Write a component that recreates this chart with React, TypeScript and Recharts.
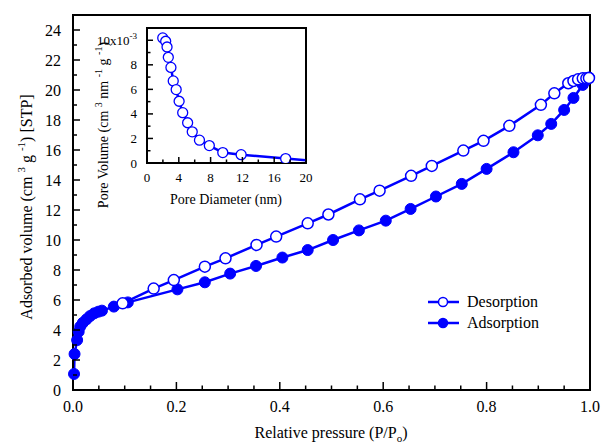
import React from 'react';
import { LineChart, Line, XAxis, YAxis, ReferenceArea, Legend, Label } from 'recharts';

// isotherm, main panel (P/Po vs cm3/g)
const adsP = [0.002, 0.003, 0.008, 0.011, 0.014, 0.019, 0.026, 0.033, 0.041, 0.049, 0.056, 0.079, 0.106, 0.202, 0.255, 0.304, 0.354, 0.405, 0.454, 0.503, 0.553, 0.605, 0.653, 0.702, 0.752, 0.8, 0.852, 0.899, 0.925, 0.95, 0.968, 0.986, 0.993, 0.998];
const adsV = [1.07, 2.4, 3.33, 3.89, 4.23, 4.48, 4.71, 4.93, 5.11, 5.22, 5.29, 5.56, 5.84, 6.71, 7.18, 7.76, 8.27, 8.83, 9.33, 10.0, 10.64, 11.29, 12.07, 12.9, 13.74, 14.74, 15.85, 16.98, 17.74, 18.67, 19.47, 20.34, 20.67, 20.83];
const desP = [0.096, 0.156, 0.195, 0.255, 0.295, 0.355, 0.393, 0.454, 0.494, 0.555, 0.593, 0.654, 0.694, 0.755, 0.794, 0.844, 0.905, 0.931, 0.958, 0.968, 0.977, 0.986, 0.993, 0.998];
const desV = [5.78, 6.76, 7.33, 8.22, 8.78, 9.67, 10.23, 11.11, 11.7, 12.71, 13.29, 14.28, 14.94, 15.96, 16.61, 17.61, 19.01, 19.78, 20.45, 20.6, 20.71, 20.78, 20.78, 20.8];

// pore size distribution, inset (x10^-3)
const poreD = [1.98, 2.35, 2.52, 2.68, 3.01, 3.3, 3.67, 4.04, 4.49, 5.11, 5.69, 6.6, 7.84, 9.53, 11.84, 17.44, 22.5];
const poreV = [10.19, 9.92, 9.45, 8.61, 7.79, 6.69, 5.98, 5.03, 4.1, 3.28, 2.54, 1.86, 1.42, 0.85, 0.68, 0.36, 0.08];

const mainXTicks = [0, 0.05, 0.1, 0.15, 0.2, 0.25, 0.3, 0.35, 0.4, 0.45, 0.5, 0.55, 0.6, 0.65, 0.7, 0.75, 0.8, 0.85, 0.9, 0.95, 1];
const mainYTicks = [0, 1, 2, 3, 4, 5, 6, 7, 8, 9, 10, 11, 12, 13, 14, 15, 16, 17, 18, 19, 20, 21, 22, 23, 24];
const insetXTicks = [0, 2, 4, 6, 8, 10, 12, 14, 16, 18, 20];
const insetYTicks = [0, 1, 2, 3, 4, 5, 6, 7, 8, 9, 10];

const adsData = adsP.map((p, i) => ({ p, v: adsV[i] }));
const desData = desP.map((p, i) => ({ p, v: desV[i] }));
const poreData = poreD.map((d, i) => ({ d, v: poreV[i] }));

const FONT = '"Liberation Serif", "Times New Roman", serif';
const BLUE = '#0000ff';

const isMult = (v: number, step: number) => Math.abs(v / step - Math.round(v / step)) < 1e-6;

const makeXTick = (step: number, fmt: (v: number) => string, majLen: number, minLen: number, fs: number, dy: number) =>
  (props: any) => {
    const { x, y, payload } = props;
    const major = isMult(payload.value, step);
    return (
      <g>
        <line x1={x} x2={x} y1={y} y2={y - (major ? majLen : minLen)} stroke="#000" strokeWidth={1.5} />
        {major && (
          <text x={x} y={y + dy} textAnchor="middle" fontSize={fs} fontFamily={FONT} fill="#000">
            {fmt(payload.value)}
          </text>
        )}
      </g>
    );
  };

const makeYTick = (step: number, majLen: number, minLen: number, fs: number, gap: number, top?: number) =>
  (props: any) => {
    const { x, y, payload } = props;
    const v = payload.value;
    const major = isMult(v, step);
    return (
      <g>
        <line x1={x} x2={x + (major ? majLen : minLen)} y1={y} y2={y} stroke="#000" strokeWidth={1.5} />
        {major && (
          <text x={x - gap} y={y + fs * 0.35} textAnchor="end" fontSize={fs} fontFamily={FONT} fill="#000">
            {top !== undefined && v === top ? (
              <>
                {v}x10<tspan dy={-6} fontSize={fs * 0.7}>-3</tspan>
              </>
            ) : (
              v
            )}
          </text>
        )}
      </g>
    );
  };

const MainXTitle = () => (
  <text x={331} y={438} textAnchor="middle" fontSize={16} fontFamily={FONT} fill="#000">
    Relative pressure (P/P<tspan dy={4} fontSize={11}>o</tspan><tspan dy={-4}>)</tspan>
  </text>
);

const MainYTitle = () => (
  <text x={32} y={207} transform="rotate(-90, 32, 207)" textAnchor="middle" fontSize={16} fontFamily={FONT} fill="#000">
    Adsorbed volume (cm <tspan dy={-7} fontSize={11}>3</tspan><tspan dy={7}> g </tspan>
    <tspan dy={-7} fontSize={11}>-1</tspan><tspan dy={7}>) [STP]</tspan>
  </text>
);

const InsetXTitle = () => (
  <text x={226} y={204} textAnchor="middle" fontSize={14} fontFamily={FONT} fill="#000">
    Pore Diameter (nm)
  </text>
);

const InsetYTitle = () => (
  <text x={108} y={125} transform="rotate(-90, 108, 125)" textAnchor="middle" fontSize={14} fontFamily={FONT} fill="#000">
    Pore Volume (cm <tspan dy={-6} fontSize={10}>3</tspan><tspan dy={6}> nm </tspan>
    <tspan dy={-6} fontSize={10}>-1</tspan><tspan dy={6}> g </tspan>
    <tspan dy={-6} fontSize={10}>-1</tspan><tspan dy={6}>)</tspan>
  </text>
);

const legendItems = [
  { name: 'Desorption', open: true },
  { name: 'Adsorption', open: false },
];

const LegendBox = () => (
  <div style={{ fontFamily: FONT, fontSize: 16, color: '#000' }}>
    {legendItems.map((it) => (
      <div key={it.name} style={{ display: 'flex', alignItems: 'center', height: 21 }}>
        <svg width={32} height={14}>
          <line x1={0} x2={31} y1={7} y2={7} stroke={BLUE} strokeWidth={2.5} />
          <circle cx={15} cy={7} r={4.5} fill={it.open ? '#fff' : BLUE} stroke={BLUE} strokeWidth={1.5} />
        </svg>
        <span style={{ marginLeft: 7 }}>{it.name}</span>
      </div>
    ))}
  </div>
);

export default function App() {
  return (
    <div style={{ position: 'absolute', left: 0, top: 0, width: 602, height: 443, background: '#fff' }}>
      <LineChart width={602} height={443} margin={{ top: 15, right: 12, bottom: 52, left: 72 }}>
        <XAxis
          dataKey="p"
          type="number"
          domain={[0, 1]}
          ticks={mainXTicks}
          interval={0}
          height={1}
          tickSize={0}
          tickMargin={0}
          tickLine={false}
          axisLine={{ stroke: '#000', strokeWidth: 2 }}
          tick={makeXTick(0.2, (v) => v.toFixed(1), 8, 4.5, 16, 22)}
        >
          <Label content={MainXTitle} />
        </XAxis>
        <YAxis
          type="number"
          domain={[0, 25]}
          ticks={mainYTicks}
          interval={0}
          width={1}
          tickSize={0}
          tickMargin={0}
          tickLine={false}
          axisLine={{ stroke: '#000', strokeWidth: 2 }}
          tick={makeYTick(2, 7, 4, 16, 12)}
        >
          <Label content={MainYTitle} />
        </YAxis>
        <ReferenceArea x1={0} x2={1} y1={0} y2={25} fill="none" stroke="#000" strokeWidth={2} fillOpacity={0} />
        <Line
          data={adsData}
          dataKey="v"
          name="Adsorption"
          stroke={BLUE}
          strokeWidth={2.5}
          dot={{ r: 5.5, fill: BLUE, stroke: BLUE, strokeWidth: 1 }}
          isAnimationActive={false}
          legendType="none"
        />
        <Line
          data={desData}
          dataKey="v"
          name="Desorption"
          stroke={BLUE}
          strokeWidth={2.5}
          dot={{ r: 5.5, fill: '#fff', stroke: BLUE, strokeWidth: 1.5 }}
          isAnimationActive={false}
          legendType="none"
        />
        <Legend
          layout="horizontal"
          verticalAlign="middle"
          align="center"
          content={LegendBox}
          wrapperStyle={{ left: 428, top: 291, width: 'auto' }}
        />
      </LineChart>

      <div style={{ position: 'absolute', left: 0, top: 0 }}>
        <LineChart width={330} height={215} margin={{ top: 28, right: 24, bottom: 51, left: 146 }}>
          <XAxis
            dataKey="d"
            type="number"
            domain={[0, 20]}
            allowDataOverflow
            ticks={insetXTicks}
            interval={0}
            height={1}
            tickSize={0}
            tickMargin={0}
            tickLine={false}
            axisLine={{ stroke: '#000', strokeWidth: 2 }}
            tick={makeXTick(4, (v) => String(v), 6, 3.5, 13, 19)}
          >
            <Label content={InsetXTitle} />
          </XAxis>
          <YAxis
            type="number"
            domain={[0, 11]}
            allowDataOverflow
            ticks={insetYTicks}
            interval={0}
            width={1}
            tickSize={0}
            tickMargin={0}
            tickLine={false}
            axisLine={{ stroke: '#000', strokeWidth: 2 }}
            tick={makeYTick(2, 6, 3.5, 13, 10, 10)}
          >
            <Label content={InsetYTitle} />
          </YAxis>
          <ReferenceArea x1={0} x2={20} y1={0} y2={11} fill="none" stroke="#000" strokeWidth={2} fillOpacity={0} />
          <Line
            data={poreData}
            dataKey="v"
            stroke={BLUE}
            strokeWidth={2.5}
            dot={{ r: 5, fill: '#fff', stroke: BLUE, strokeWidth: 1.3 }}
            isAnimationActive={false}
          />
        </LineChart>
      </div>
    </div>
  );
}
